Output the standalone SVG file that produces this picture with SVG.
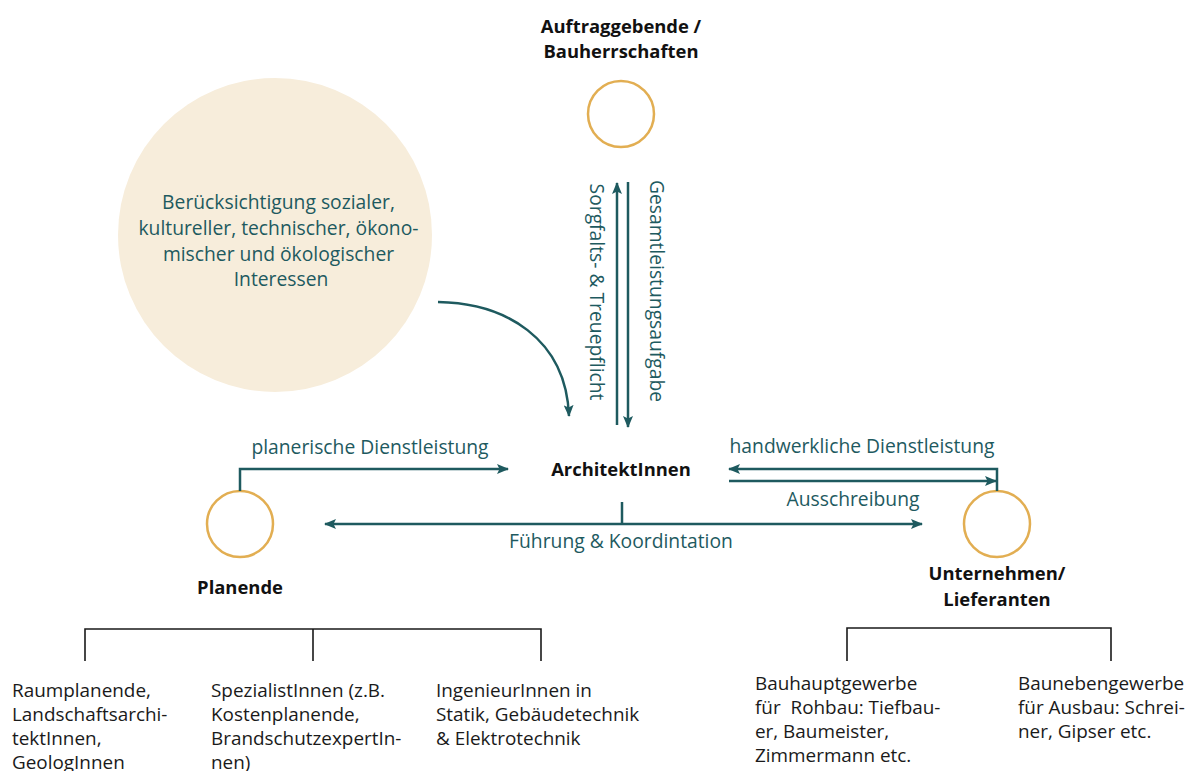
<svg xmlns="http://www.w3.org/2000/svg" width="1186" height="771" viewBox="0 0 1186 771">
  <style>
    .lbl { font-family: "Open Sans", "Liberation Sans", sans-serif; font-size: 19.3px; fill: #1e5a5f; text-anchor: middle; }
    .head { font-family: "Open Sans", "Liberation Sans", sans-serif; font-size: 18.4px; font-weight: bold; fill: #111111; text-anchor: middle; }
    .body { font-family: "Open Sans", "Liberation Sans", sans-serif; font-size: 18.9px; fill: #1a1a1a; }
    .ring { fill: none; stroke: #e2ae52; stroke-width: 2.5; }
    .flow { fill: none; stroke: #1e5a5f; stroke-width: 2.5; }
    .tree { fill: none; stroke: #1a1a1a; stroke-width: 1.6; }
  </style>
  <defs>
    <marker id="arrow" viewBox="0 0 12 10" refX="11" refY="5" markerWidth="12" markerHeight="10" markerUnits="userSpaceOnUse" orient="auto">
      <path d="M0,0 L12,5 L0,10 L2.5,5 z" fill="#1e5a5f"/>
    </marker>
  </defs>

  <!-- interests bubble -->
  <g id="interests">
    <circle cx="275" cy="235" r="157" fill="#f7eddb"/>
    <text class="lbl">
      <tspan x="281" y="209">Berücksichtigung sozialer,</tspan>
      <tspan x="281" y="235">kultureller, technischer, ökono-</tspan>
      <tspan x="281" y="261">mischer und ökologischer</tspan>
      <tspan x="281" y="286">Interessen</tspan>
    </text>
  </g>

  <!-- clients -->
  <g id="clients">
    <text class="head"><tspan x="621" y="33">Auftraggebende /</tspan><tspan x="621" y="58">Bauherrschaften</tspan></text>
    <circle class="ring" cx="621" cy="114" r="33"/>
  </g>

  <!-- architects -->
  <g id="architects">
    <text class="head" x="621" y="476">ArchitektInnen</text>
  </g>

  <!-- planners -->
  <g id="planners">
    <circle class="ring" cx="240" cy="524" r="33"/>
    <text class="head" x="240" y="594">Planende</text>
  </g>

  <!-- contractors -->
  <g id="contractors">
    <circle class="ring" cx="997" cy="524" r="33"/>
    <text class="head"><tspan x="997" y="580">Unternehmen/</tspan><tspan x="997" y="606">Lieferanten</tspan></text>
  </g>

  <!-- connectors -->
  <g id="connectors">
    <path class="flow" d="M438,302 C505,303 566,338 569,416" marker-end="url(#arrow)"/>
    <line class="flow" x1="617" y1="425" x2="617" y2="183" marker-end="url(#arrow)"/>
    <line class="flow" x1="628" y1="182" x2="628" y2="427" marker-end="url(#arrow)"/>
    <path class="flow" d="M240,491 V469 H508" marker-end="url(#arrow)"/>
    <line class="flow" x1="622" y1="502" x2="622" y2="524"/>
    <line class="flow" x1="622" y1="524" x2="922" y2="524" marker-end="url(#arrow)"/>
    <line class="flow" x1="622" y1="524" x2="325" y2="524" marker-end="url(#arrow)"/>
    <path class="flow" d="M997,491 V469 H729" marker-end="url(#arrow)"/>
    <line class="flow" x1="729" y1="481" x2="996" y2="481" marker-end="url(#arrow)"/>

    <text class="lbl" transform="translate(590,292) rotate(90)">Sorgfalts- &amp; Treuepflicht</text>
    <text class="lbl" transform="translate(650,291) rotate(90)">Gesamtleistungsaufgabe</text>
    <text class="lbl" x="370" y="454">planerische Dienstleistung</text>
    <text class="lbl" x="621" y="548">Führung &amp; Koordintation</text>
    <text class="lbl" x="862" y="453">handwerkliche Dienstleistung</text>
    <text class="lbl" x="853" y="506">Ausschreibung</text>

    <!-- planner breakdown -->
    <path class="tree" d="M85,661 V629 H541 V661 M313,629 V661"/>
    <!-- contractor breakdown -->
    <path class="tree" d="M847,661 V628 H1111 V661"/>
  </g>

  <g id="planner-types">
    <text class="body"><tspan x="12" y="697">Raumplanende,</tspan><tspan x="12" y="721">Landschaftsarchi-</tspan><tspan x="12" y="745">tektInnen,</tspan><tspan x="12" y="769">GeologInnen</tspan></text>
    <text class="body"><tspan x="211" y="697">SpezialistInnen (z.B.</tspan><tspan x="211" y="721">Kostenplanende,</tspan><tspan x="211" y="745">BrandschutzexpertIn-</tspan><tspan x="211" y="769">nen)</tspan></text>
    <text class="body"><tspan x="436" y="697">IngenieurInnen in</tspan><tspan x="436" y="721">Statik, Gebäudetechnik</tspan><tspan x="436" y="745">&amp; Elektrotechnik</tspan></text>
  </g>

  <g id="contractor-types">
    <text class="body"><tspan x="755" y="690">Bauhauptgewerbe</tspan><tspan x="755" y="714">für&#160; Rohbau: Tiefbau-</tspan><tspan x="755" y="738">er, Baumeister,</tspan><tspan x="755" y="762">Zimmermann etc.</tspan></text>
    <text class="body"><tspan x="1018" y="690">Baunebengewerbe</tspan><tspan x="1018" y="714">für Ausbau: Schrei-</tspan><tspan x="1018" y="738">ner, Gipser etc.</tspan></text>
  </g>
</svg>
